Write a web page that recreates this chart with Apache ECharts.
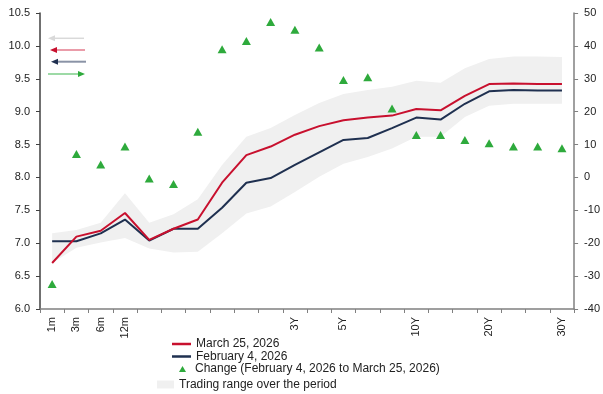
<!DOCTYPE html>
<html>
<head>
<meta charset="utf-8">
<script src="https://cdn.jsdelivr.net/npm/echarts@6/dist/echarts.min.js"></script>
<style>
  html, body { margin: 0; padding: 0; background: #ffffff; }
  #chart { width: 603px; height: 394px; }
</style>
</head>
<body>
<div id="chart"></div>
<script>
// Curve tenors (one category per point) and the labels printed under them
const tenors = ['1m','3m','6m','12m','15m','18m','21m','2Y','27m','30m','3Y','4Y','5Y','6Y','7Y','10Y','12Y','15Y','20Y','25Y','28Y','30Y'];
const tickLabels = ['1m','3m','6m','12m','','','','','','','3Y','','5Y','','','10Y','','','20Y','','','30Y'];

// Yields (%) on each date
const march25 = [6.70, 7.10, 7.19, 7.46, 7.05, 7.22, 7.36, 7.92, 8.34, 8.47, 8.65, 8.78, 8.87, 8.91, 8.94, 9.04, 9.02, 9.24, 9.42, 9.43, 9.42, 9.42];
const feb4    = [7.03, 7.03, 7.15, 7.36, 7.04, 7.22, 7.22, 7.54, 7.92, 7.99, 8.19, 8.38, 8.57, 8.60, 8.75, 8.91, 8.88, 9.12, 9.31, 9.33, 9.32, 9.32];

// Change between the two dates (bp, right axis)
const changeBp = [-32.4, 7.1, 3.9, 9.4, -0.3, -2.0, 13.9, 39.0, 41.5, 47.3, 44.9, 39.5, 29.6, 30.5, 21.0, 12.9, 12.9, 11.4, 10.4, 9.4, 9.4, 8.9];

// Low / high of each tenor over the period (%)
const rangeLow  = [6.70, 6.93, 7.01, 7.08, 6.92, 6.86, 6.87, 7.15, 7.45, 7.56, 7.78, 8.01, 8.21, 8.31, 8.44, 8.62, 8.62, 8.92, 9.09, 9.12, 9.12, 9.12];
const rangeHigh = [7.15, 7.20, 7.31, 7.76, 7.31, 7.44, 7.67, 8.19, 8.62, 8.75, 8.95, 9.13, 9.27, 9.33, 9.38, 9.47, 9.44, 9.66, 9.80, 9.84, 9.84, 9.83];

const RED = '#c8102e';
const NAVY = '#1f3050';
const GREEN = '#2eaa3c';
const BAND = '#f0f0f0';
const FONT = 'Liberation Sans, Arial, sans-serif';

// Band drawn as a stacked area: invisible base at the low, filled height up to the high
const rangeSpan = rangeHigh.map((h, i) => +(h - rangeLow[i]).toFixed(4));

const chart = echarts.init(document.getElementById('chart'));

const legendText = { color: '#222', fontSize: 12, fontFamily: FONT, lineHeight: 12 };

chart.setOption({
  animation: false,
  backgroundColor: '#ffffff',
  grid: { left: 40, right: 28, top: 13, bottom: 85 },
  legend: [
    {
      orient: 'vertical', left: 172, top: 338, padding: 0, itemGap: 0.5,
      itemWidth: 19, itemHeight: 2.5, icon: 'rect',
      textStyle: legendText,
      data: ['March 25, 2026', 'February 4, 2026']
    },
    {
      orient: 'vertical', left: 179, top: 363, padding: 0,
      itemWidth: 7, itemHeight: 6, icon: 'triangle',
      textStyle: Object.assign({}, legendText, { padding: [0, 0, 0, 4] }),
      data: ['Change (February 4, 2026 to March 25, 2026)']
    },
    {
      orient: 'vertical', left: 157, top: 378.5, padding: 0,
      itemWidth: 17, itemHeight: 8, icon: 'rect',
      textStyle: legendText,
      data: ['Trading range over the period']
    }
  ],
  xAxis: {
    type: 'category',
    data: tenors,
    boundaryGap: true,
    axisLine: { onZero: false, lineStyle: { color: '#808080', width: 1.5 } },
    axisTick: { show: true, interval: 0, length: 4, lineStyle: { color: '#808080' } },
    axisLabel: {
      interval: 0, rotate: 90, margin: 8,
      color: '#222', fontSize: 11, fontFamily: FONT,
      formatter: (v, i) => tickLabels[i]
    },
    splitLine: { show: false }
  },
  yAxis: [
    {
      type: 'value', min: 6, max: 10.5, interval: 0.5, position: 'left',
      axisLine: { show: true, lineStyle: { color: '#404040', width: 1.5 } },
      axisTick: { show: true, length: 4, lineStyle: { color: '#404040' } },
      axisLabel: { margin: 10, color: '#222', fontSize: 11, fontFamily: FONT,
        formatter: v => v.toFixed(1) },
      splitLine: { show: false }
    },
    {
      type: 'value', min: -40, max: 50, interval: 10, position: 'right',
      axisLine: { show: true, lineStyle: { color: '#808080', width: 1.5 } },
      axisTick: { show: true, length: 4, lineStyle: { color: '#808080' } },
      axisLabel: { margin: 10, color: '#222', fontSize: 11, fontFamily: FONT },
      splitLine: { show: false }
    }
  ],
  series: [
    {
      name: 'range-low', type: 'line', stack: 'range', data: rangeLow,
      symbol: 'none', silent: true, lineStyle: { width: 0, opacity: 0 }, z: 1
    },
    {
      name: 'Trading range over the period', type: 'line', stack: 'range', data: rangeSpan,
      symbol: 'none', silent: true, color: BAND,
      lineStyle: { width: 0, opacity: 0 },
      areaStyle: { color: BAND, opacity: 1 }, z: 1
    },
    {
      name: 'February 4, 2026', type: 'line', data: feb4, color: NAVY,
      symbol: 'none', lineStyle: { width: 2, color: NAVY }, z: 3
    },
    {
      name: 'March 25, 2026', type: 'line', data: march25, color: RED,
      symbol: 'none', lineStyle: { width: 2, color: RED }, z: 4
    },
    {
      name: 'Change (February 4, 2026 to March 25, 2026)', type: 'scatter', yAxisIndex: 1,
      data: changeBp, symbol: 'triangle', symbolSize: [9, 8], color: GREEN,
      itemStyle: { color: GREEN, opacity: 1 }, z: 5
    }
  ],
  graphic: [
    // direction arrows in the upper-left corner
    { type: 'line', shape: { x1: 55, y1: 38.3, x2: 84, y2: 38.3 }, style: { stroke: '#d9d9d9', lineWidth: 1.5 } },
    { type: 'polygon', shape: { points: [[48, 38.3], [55, 35.3], [55, 41.3]] }, style: { fill: '#d9d9d9' } },
    { type: 'line', shape: { x1: 56, y1: 50, x2: 85, y2: 50 }, style: { stroke: '#dc5a70', lineWidth: 1.2 } },
    { type: 'polygon', shape: { points: [[50, 50], [57, 47], [57, 53]] }, style: { fill: RED } },
    { type: 'line', shape: { x1: 57, y1: 61.7, x2: 86, y2: 61.7 }, style: { stroke: '#8a93a6', lineWidth: 2 } },
    { type: 'polygon', shape: { points: [[51, 61.7], [58, 58.7], [58, 64.7]] }, style: { fill: NAVY } },
    { type: 'line', shape: { x1: 48, y1: 74, x2: 79, y2: 74 }, style: { stroke: '#5cc26a', lineWidth: 1.2 } },
    { type: 'polygon', shape: { points: [[85, 74], [78, 71], [78, 77]] }, style: { fill: GREEN } }
  ]
});
</script>
</body>
</html>
